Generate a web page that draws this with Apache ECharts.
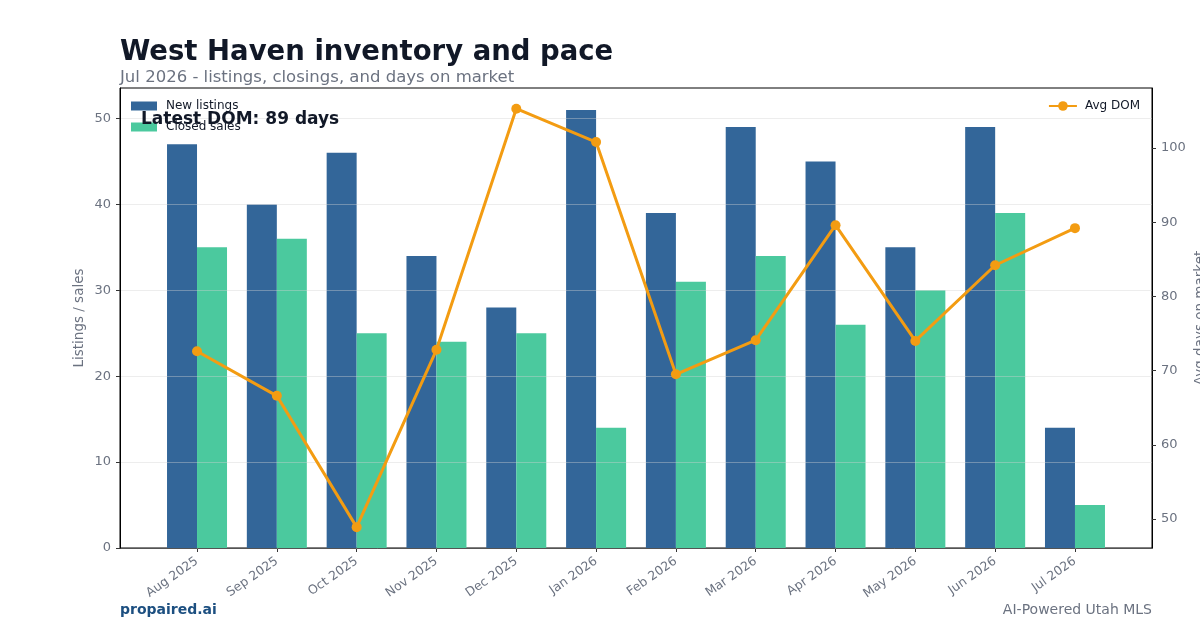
<!DOCTYPE html>
<html>
<head>
<meta charset="utf-8">
<title>West Haven inventory and pace</title>
<script src="https://cdn.jsdelivr.net/npm/echarts@6/dist/echarts.min.js"></script>
<style>
	html, body { margin: 0; padding: 0; background: #fff; }
	#chart { width: 1200px; height: 630px; }
</style>
</head>
<body>
<div id="chart"></div>
<script>
// data
var months = ['Aug 2025', 'Sep 2025', 'Oct 2025', 'Nov 2025', 'Dec 2025', 'Jan 2026',
	'Feb 2026', 'Mar 2026', 'Apr 2026', 'May 2026', 'Jun 2026', 'Jul 2026'];
var newListings = [47, 40, 46, 34, 28, 51, 39, 49, 45, 35, 49, 14];
var closedSales = [35, 36, 25, 24, 25, 14, 31, 34, 26, 30, 39, 5];
var avgDom = [72.6, 66.6, 48.9, 72.8, 105.3, 100.8, 69.5, 74.1, 89.6, 74.0, 84.2, 89.2];
var leftTicks = [0, 10, 20, 30, 40, 50];
var rightTicks = [50, 60, 70, 80, 90, 100];

var FONT = '"DejaVu Sans", sans-serif';
var GRAY = '#6b7280';
var DARK = '#111827';

function pairs(arr) {
	return arr.map(function (v, i) { return [i, v]; });
}
var idx = months.map(function (m, i) { return i; });
var latest = Math.round(avgDom[avgDom.length - 1]);

var chart = echarts.init(document.getElementById('chart'));
var option = {
	animation: false,
	textStyle: { fontFamily: FONT },
	title: [
		{
			text: 'West Haven inventory and pace',
			left: 115, top: 34,
			textStyle: { fontFamily: FONT, fontSize: 27.5, fontWeight: 'bold', color: DARK }
		},
		{
			text: 'Jul 2026 - listings, closings, and days on market',
			left: 115, top: 64,
			textStyle: { fontFamily: FONT, fontSize: 16.5, fontWeight: 'normal', color: GRAY }
		},
		{
			text: 'Latest DOM: ' + latest + ' days',
			left: 136, top: 106,
			textStyle: { fontFamily: FONT, fontSize: 17, fontWeight: 'bold', color: DARK }
		}
	],
	legend: [
		{
			data: ['New listings', 'Closed sales'],
			orient: 'vertical',
			left: 126, top: 95,
			icon: 'rect',
			itemWidth: 26, itemHeight: 9, itemGap: 9,
			textStyle: { fontFamily: FONT, fontSize: 12, color: DARK, padding: [0, 0, 0, 4] }
		},
		{
			data: ['Avg DOM'],
			right: 55, top: 95,
			itemWidth: 28, itemHeight: 12,
			textStyle: { fontFamily: FONT, fontSize: 12, color: DARK, padding: [0, 0, 0, 3] }
		}
	],
	grid: {
		left: 120, right: 48, top: 88, bottom: 82,
		outerBoundsMode: 'none',
		containLabel: false,
		show: true, borderColor: '#000', borderWidth: 1, backgroundColor: 'transparent'
	},
	xAxis: {
		type: 'value',
		min: -0.965, max: 11.965,
		axisLine: { show: true, onZero: false, lineStyle: { color: '#000' } },
		axisTick: { show: true, length: 4, customValues: idx, lineStyle: { color: '#333' } },
		splitLine: { show: false },
		axisLabel: {
			customValues: idx,
			rotate: 35,
			margin: 12,
			fontFamily: FONT, fontSize: 12.5, color: GRAY,
			formatter: function (v) { return months[v]; }
		}
	},
	yAxis: [
		{
			type: 'value',
			min: 0, max: 53.55,
			position: 'left',
			z: 3,
			name: 'Listings / sales',
			nameLocation: 'middle',
			nameRotate: 90,
			nameGap: 34,
			nameMoveOverlap: false,
			nameTextStyle: { fontFamily: FONT, fontSize: 13.5, color: GRAY },
			axisLine: { show: true, onZero: false, lineStyle: { color: '#000' } },
			axisTick: { show: true, length: 4, customValues: leftTicks, lineStyle: { color: '#333' } },
			axisLabel: { customValues: leftTicks, fontFamily: FONT, fontSize: 13, color: GRAY, margin: 9 },
			splitLine: { show: true, lineStyle: { color: 'rgba(210,210,210,0.4)', width: 1 } }
		},
		{
			type: 'value',
			min: 46.09, max: 108.09,
			position: 'right',
			name: 'Avg days on market',
			nameLocation: 'middle',
			nameRotate: 90,
			nameGap: 41,
			nameMoveOverlap: false,
			nameTextStyle: { fontFamily: FONT, fontSize: 13.5, color: GRAY },
			axisLine: { show: true, onZero: false, lineStyle: { color: '#000' } },
			axisTick: { show: true, length: 4, customValues: rightTicks, lineStyle: { color: '#333' } },
			axisLabel: { customValues: rightTicks, fontFamily: FONT, fontSize: 13, color: GRAY, margin: 9 },
			splitLine: { show: false }
		}
	],
	series: [
		{
			name: 'New listings',
			type: 'bar',
			data: pairs(newListings),
			barWidth: 30,
			barGap: '0%',
			itemStyle: { color: '#336699' }
		},
		{
			name: 'Closed sales',
			type: 'bar',
			data: pairs(closedSales),
			barWidth: 30,
			barGap: '0%',
			itemStyle: { color: '#4bc99e' }
		},
		{
			name: 'Avg DOM',
			type: 'line',
			yAxisIndex: 1,
			data: pairs(avgDom),
			symbol: 'circle',
			symbolSize: 10,
			z: 5,
			lineStyle: { color: '#f39c12', width: 3 },
			itemStyle: { color: '#f39c12' }
		}
	],
	graphic: [
		{
			type: 'text',
			left: 120, top: 603,
			style: { text: 'propaired.ai', font: 'bold 14px ' + FONT, fill: '#1c4f80' }
		},
		{
			type: 'text',
			right: 48, top: 603,
			style: { text: 'AI-Powered Utah MLS', font: '14px ' + FONT, fill: GRAY }
		}
	]
};
chart.setOption(option);
</script>
</body>
</html>
